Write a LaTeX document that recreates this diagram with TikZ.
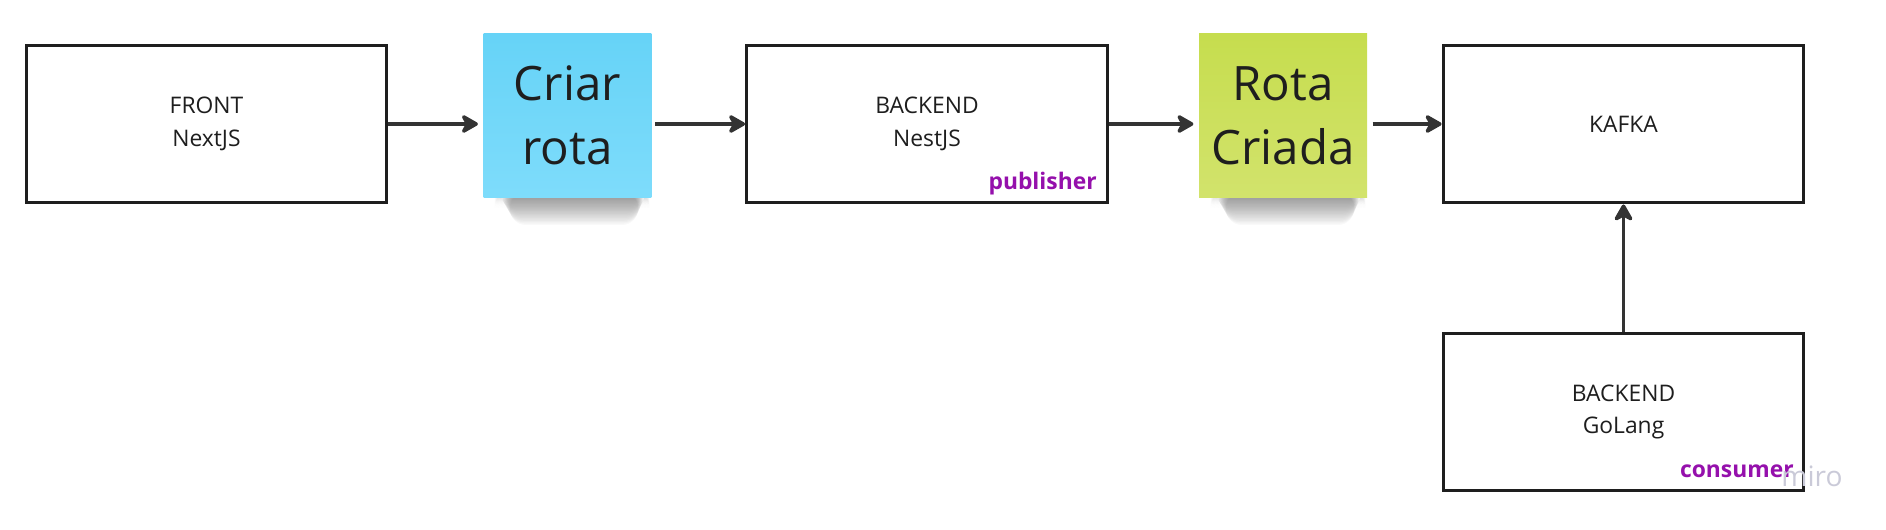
\documentclass[tikz,border=0pt]{standalone}
\usepackage{fontspec}
\setmainfont{Open Sans}
\usetikzlibrary{arrows.meta}
\definecolor{ink}{HTML}{1E1E1E}
\definecolor{arrowc}{HTML}{333333}
\definecolor{bluetop}{HTML}{66D3F7}
\definecolor{bluebot}{HTML}{7EDCFB}
\definecolor{limetop}{HTML}{C6DD4E}
\definecolor{limebot}{HTML}{D2E36C}
\definecolor{tagpurple}{HTML}{9510AC}
\definecolor{mirogray}{HTML}{CACAD8}
\begin{document}
\begin{tikzpicture}[x=0.02cm,y=-0.02cm,
  box/.style={draw=ink, line width=1.7pt, fill=white, minimum width=7.22cm, minimum height=3.16cm,
    align=center, font=\fontsize{13}{18.7}\selectfont, text=ink, inner sep=0pt},
  sticky/.style={minimum width=3.36cm, minimum height=3.28cm, align=center,
    font=\fontsize{27}{36.5}\selectfont, text=ink, inner sep=0pt},
  flow/.style={draw=arrowc, line width=2pt, -{Stealth[length=11.5pt,width=13pt,inset=3.5pt,round]}},
  tag/.style={font=\fontsize{13}{15}\selectfont\bfseries, text=tagpurple, inner sep=0pt, anchor=base east},
  wmark/.style={font=\fontsize{16}{18}\selectfont, text=mirogray, inner sep=0pt}
]
\useasboundingbox (0,0) rectangle (1886,530);
% sticky shadows (soft, layered)
\foreach \k in {1,...,20} {
  \fill[black,opacity=0.022,rounded corners=9] (494+\k*0.8,192) rectangle (650-\k*0.6,197+\k*1.4);
  \fill[black,opacity=0.022,rounded corners=9] (1210+\k*0.8,192) rectangle (1366-\k*0.6,197+\k*1.4);
}
\node[box] (front) at (206.5,124) {FRONT\\NextJS};
\node[sticky, top color=bluetop, bottom color=bluebot] (criar) at (567.5,115.5) {Criar\\rota};
\node[box] (nest) at (927,124) {BACKEND\\NestJS};
\node[sticky, top color=limetop, bottom color=limebot] (rota) at (1283,115.5) {Rota\\Criada};
\node[box] (kafka) at (1623.5,124) {KAFKA};
\node[box] (golang) at (1623.5,412) {BACKEND\\GoLang};
\node[tag] (pub) at (1097,190) {publisher};
\node[tag] (cons) at (1794,477) {consumer};
\node[wmark] (miro) at (1812,476) {miro};
\draw[flow, shorten >=3pt] (front.east |- 0,124) -- (criar.west |- 0,124);
\draw[flow, shorten <=2pt] (criar.east |- 0,124) -- (nest.west);
\draw[flow, shorten >=3pt] (nest.east) -- (rota.west |- 0,124);
\draw[flow, shorten <=3pt] (rota.east |- 0,124) -- (kafka.west);
\draw[flow] (golang.north) -- (kafka.south);
\end{tikzpicture}
\end{document}
